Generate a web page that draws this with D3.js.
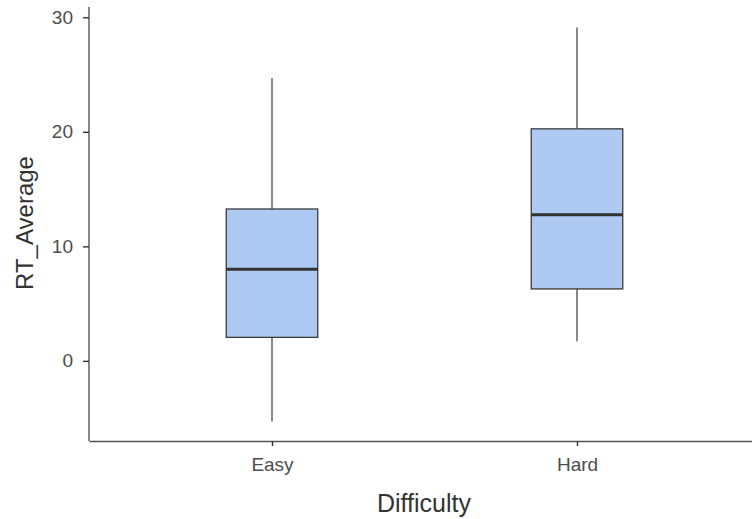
<!DOCTYPE html>
<html lang="en">
<head>
<meta charset="UTF-8">
<script src="https://d3js.org/d3.v7.min.js"></script>
<style>
  body { margin: 0; background: #fff; }
  text { font-family: "Liberation Sans", Arial, sans-serif; }
</style>
</head>
<body>
<svg width="752" height="519"></svg>
<script>
// box stats
const categories = ["Easy", "Hard"];
const whiskerLow = [-5.3, 1.7];
const q1 = [2.05, 6.28];
const median = [8.0, 12.76];
const q3 = [13.26, 20.26];
const whiskerHigh = [24.7, 29.1];
const yTicks = [0, 10, 20, 30];

const svg = d3.select("svg");
const plotLeft = 89, plotBottom = 441, plotTop = 7;

const y = d3.scaleLinear().domain([-7, 30.9]).range([plotBottom, plotTop]);
// discrete axis with ggplot-style 0.6 expansion
const x = d3.scaleLinear().domain([0.4, 2.6]).range([plotLeft, 760]);
const boxW = 0.3;

const data = categories.map((c, i) => ({
  cat: c, pos: i + 1,
  lo: whiskerLow[i], q1: q1[i], med: median[i], q3: q3[i], hi: whiskerHigh[i]
}));

const g = svg.append("g");

// whiskers
g.selectAll(".wh").data(data).enter().append("line")
  .attr("x1", d => x(d.pos)).attr("x2", d => x(d.pos))
  .attr("y1", d => y(d.hi)).attr("y2", d => y(d.q3))
  .attr("stroke", "#4a4a4a").attr("stroke-width", 1.3);
g.selectAll(".wl").data(data).enter().append("line")
  .attr("x1", d => x(d.pos)).attr("x2", d => x(d.pos))
  .attr("y1", d => y(d.q1)).attr("y2", d => y(d.lo))
  .attr("stroke", "#4a4a4a").attr("stroke-width", 1.3);

// boxes
g.selectAll(".box").data(data).enter().append("rect")
  .attr("x", d => x(d.pos - boxW / 2))
  .attr("width", d => x(d.pos + boxW / 2) - x(d.pos - boxW / 2))
  .attr("y", d => y(d.q3))
  .attr("height", d => y(d.q1) - y(d.q3))
  .attr("fill", "#aecaf2").attr("stroke", "#3a3a3a").attr("stroke-width", 1.3);

// medians
g.selectAll(".med").data(data).enter().append("line")
  .attr("x1", d => x(d.pos - boxW / 2)).attr("x2", d => x(d.pos + boxW / 2))
  .attr("y1", d => y(d.med)).attr("y2", d => y(d.med))
  .attr("stroke", "#333").attr("stroke-width", 3);

// axes
const yAxis = svg.append("g")
  .attr("transform", `translate(${plotLeft},0)`)
  .call(d3.axisLeft(y).tickValues(yTicks).tickSizeInner(6).tickSizeOuter(0).tickPadding(10));
const xAxis = svg.append("g")
  .attr("transform", `translate(0,${plotBottom})`)
  .call(d3.axisBottom(x).tickValues([1, 2]).tickFormat((d, i) => categories[i])
    .tickSizeInner(5).tickSizeOuter(0).tickPadding(12));

[yAxis, xAxis].forEach(a => {
  a.select(".domain").attr("stroke", "#555").attr("stroke-width", 1.4);
  a.selectAll(".tick line").attr("stroke", "#333").attr("stroke-width", 1.4);
  a.selectAll(".tick text").attr("fill", "#4d4d4d").attr("font-size", 19);
});
yAxis.select(".domain").attr("d", `M0,${y(30.9)}V${plotBottom}`);

// axis titles
svg.append("text")
  .attr("x", 424).attr("y", 512)
  .attr("text-anchor", "middle").attr("font-size", 25).attr("fill", "#333")
  .text("Difficulty");
svg.append("text")
  .attr("transform", `translate(33,223) rotate(-90)`)
  .attr("text-anchor", "middle").attr("font-size", 24).attr("fill", "#333")
  .text("RT_Average");
</script>
</body>
</html>
